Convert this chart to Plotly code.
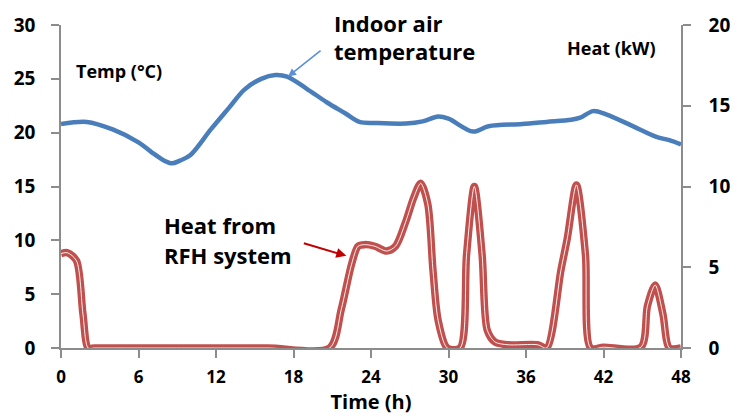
import plotly.graph_objects as go

# Indoor air temperature (°C), left axis
temp_t = [0, 2, 4, 6, 7, 8, 8.6, 9.2, 10, 11.6, 13, 14.2, 15.5, 16.6, 17.5, 19, 20.6, 22, 23.1, 24.4, 26.7, 28.0, 29.2, 30.0, 31.9, 33.1, 35.7, 37.6, 39.5, 40.2, 41.2, 42.2, 44.1, 46.1, 47.1, 48]
temp_v = [20.8, 21.0, 20.3, 19.1, 18.2, 17.4, 17.15, 17.4, 17.9, 20.3, 22.3, 24.0, 25.0, 25.35, 25.2, 24.1, 22.8, 21.8, 21.0, 20.9, 20.85, 21.05, 21.5, 21.3, 20.1, 20.6, 20.8, 21.0, 21.2, 21.4, 22.0, 21.7, 20.7, 19.6, 19.3, 18.9]

# Heat from RFH system (kW), right axis
heat_t = [0, 0.5, 1.2, 1.7, 2.1, 2.6, 4, 10, 16, 20.8, 21.7, 22.5, 23.0, 23.5, 24.3, 25.2, 25.9, 26.7, 27.3, 27.85, 28.4, 28.8, 29.2, 29.9, 30.9, 31.4, 32.0, 32.6, 33.0, 33.6, 34.6, 36.9, 37.6, 38.7, 39.2, 39.9, 40.6, 41.0, 42, 44.9, 45.4, 46.0, 46.6, 47.1, 48]
heat_v = [5.85, 5.9, 5.4, 2.1, 0.0, 0.0, 0.0, 0.0, 0.0, 0.0, 2.4, 5.2, 6.3, 6.4, 6.3, 6.0, 6.3, 7.85, 9.3, 10.2, 8.9, 4.8, 1.7, 0.0, 0.0, 5.8, 10.0, 5.8, 1.1, 0.37, 0.2, 0.2, 0.0, 4.8, 6.8, 10.1, 5.8, 0.0, 0.05, 0.05, 2.6, 3.9, 2.1, 0.0, 0.0]

x_ticks = [0, 6, 12, 18, 24, 30, 36, 42, 48]

FONT = "Open Sans"
W, H = 742, 417
L, R, T, B = 61, 689, 22, 348

def px(xp):
    return (xp - L) / (R - L)

def py(yp):
    return (B - yp) / (B - T)

fig = go.Figure()
fig.add_trace(go.Scatter(x=temp_t, y=temp_v, mode="lines",
                         line=dict(color="#4A7EBB", width=4.5, shape="spline", smoothing=0.9),
                         cliponaxis=False, showlegend=False))
fig.add_trace(go.Scatter(x=heat_t, y=heat_v, mode="lines", yaxis="y2",
                         line=dict(color="#C0504D", width=7.5, shape="spline", smoothing=0.8),
                         cliponaxis=False, showlegend=False))
fig.add_trace(go.Scatter(x=heat_t, y=heat_v, mode="lines", yaxis="y2",
                         line=dict(color="white", width=0.9, shape="spline", smoothing=0.8),
                         cliponaxis=False, showlegend=False))

axis_common = dict(showgrid=False, zeroline=False, showline=True, linecolor="#8C8C8C",
                   linewidth=1.5, ticks="outside", ticklen=8, tickcolor="#8C8C8C", tickwidth=1.5)

fig.update_layout(
    width=W, height=H,
    margin=dict(l=L, r=W - R, t=T, b=H - B),
    paper_bgcolor="white", plot_bgcolor="white",
    font=dict(family=FONT, color="black"),
    xaxis=dict(range=[0, 48], tickvals=x_ticks, ticktext=[str(v) for v in x_ticks],
               tickfont=dict(family=FONT, size=17, color="black", weight="bold"),
               ticklabelstandoff=5,
               title=dict(text="<b>Time (h)</b>", font=dict(family=FONT, size=20, color="black"), standoff=0),
               **axis_common),
    yaxis=dict(range=[0, 30], dtick=5,
               tickfont=dict(family=FONT, size=19, color="black", weight="bold"),
               ticklabelstandoff=12, **axis_common),
    yaxis2=dict(range=[0, 20], dtick=5, overlaying="y", side="right",
                tickfont=dict(family=FONT, size=19, color="black", weight="bold"),
                ticklabelstandoff=14, **axis_common),
)

ann = []
def text(xp, yp, s, size, anchor="left"):
    ann.append(dict(x=px(xp), y=py(yp), xref="paper", yref="paper", text="<b>%s</b>" % s,
                    showarrow=False, xanchor=anchor, yanchor="middle",
                    font=dict(family=FONT, size=size, color="black")))

text(74, 68, "Temp (°C)", 18)
text(572, 45, "Heat (kW)", 18)
text(335, 20, "Indoor air", 22)
text(335, 48, "temperature", 22)
text(163, 224, "Heat from", 22)
text(163, 254, "RFH system", 22)

ann.append(dict(x=px(291), y=py(74), xref="paper", yref="paper", text="", showarrow=True,
                ax=34, ay=-27, arrowhead=2, arrowsize=1, arrowwidth=1.6, arrowcolor="#5B8FD6"))
ann.append(dict(x=px(350), y=py(255), xref="paper", yref="paper", text="", showarrow=True,
                ax=-44, ay=-13, arrowhead=2, arrowsize=1, arrowwidth=2, arrowcolor="#C00000"))
fig.update_layout(annotations=ann)

fig.write_html("out.html")
